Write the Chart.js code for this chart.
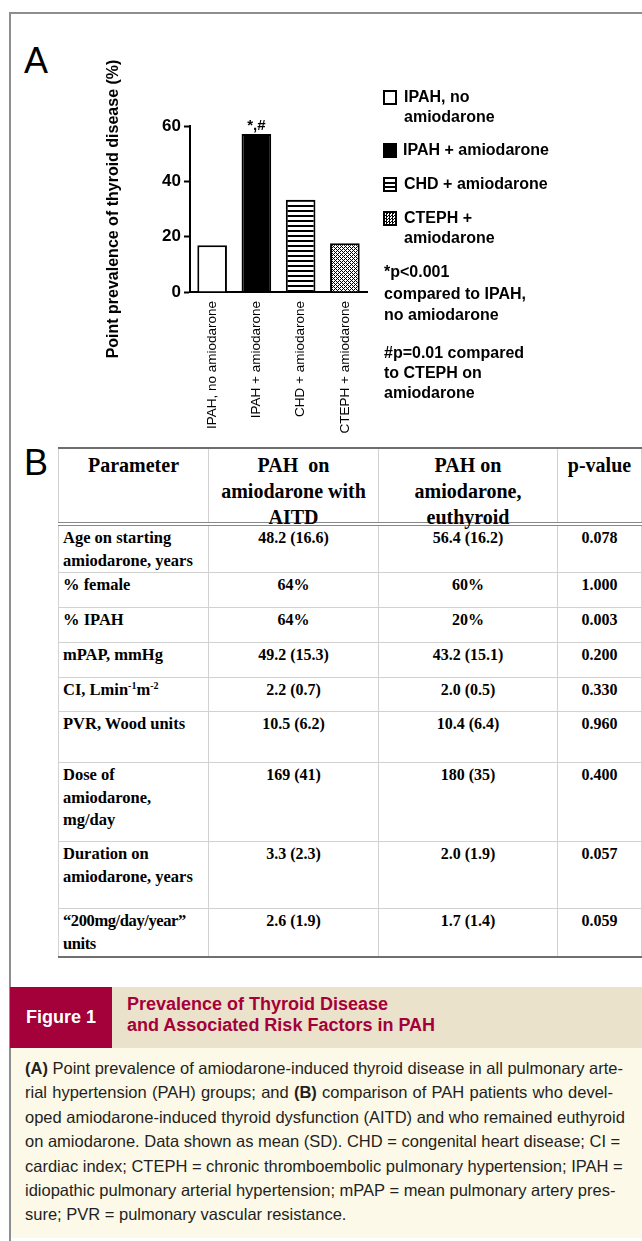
<!DOCTYPE html>
<html><head><meta charset="utf-8">
<script src="https://cdn.jsdelivr.net/npm/chart.js@4.4.1/dist/chart.umd.min.js"></script>
<style>
*{box-sizing:border-box;}
html,body{margin:0;padding:0;background:#fff;}
body{width:642px;height:1241px;position:relative;overflow:hidden;font-family:"Liberation Sans",Arial,sans-serif;color:#000;}
#frameTop{position:absolute;left:9px;top:12px;width:633px;height:2px;background:#8e8e8e;}
#frameLeft{position:absolute;left:9px;top:12px;width:2px;height:1229px;background:#8e8e8e;}
.panelLetter{position:absolute;font-size:36px;line-height:36px;}
#chartBox{position:absolute;left:95px;top:40px;width:290px;height:400px;}
.lg{position:absolute;white-space:nowrap;line-height:20px;font-weight:bold;font-size:16px;}
.sw{position:absolute;width:14px;height:15px;border:2px solid #000;background:#fff;}
#tbl{position:absolute;left:58px;top:447px;border-collapse:collapse;table-layout:fixed;font-family:"Liberation Serif","Times New Roman",serif;font-weight:bold;}
#tbl td,#tbl th{border:1px solid #d2d2d2;vertical-align:top;padding:0;white-space:nowrap;overflow:visible;}
#tbl th{font-size:20px;line-height:26px;padding-top:3px;text-align:center;border-top:2px solid #6e6e6e;border-bottom:4px double #888;}
#tbl th .hc{height:68px;overflow:visible;}
#tbl td{font-size:16.5px;line-height:22.5px;padding-top:1px;text-align:center;}
#tbl td.v{font-size:16px;}
#tbl td.p{text-align:left;padding-left:4px;}
#tbl tr:last-child td{border-bottom:2px solid #707070;}
#tbl sup{font-size:10px;line-height:0;vertical-align:6px;}
#hdrRed{position:absolute;left:10px;top:987px;width:102px;height:61px;background:#a4003a;color:#fff;font-family:"Liberation Sans Narrow","Arial Narrow","Liberation Sans",sans-serif;font-weight:bold;font-size:18px;line-height:61px;text-align:center;}
#hdrBeige{position:absolute;left:112px;top:987px;width:530px;height:61px;background:#ebe2cb;}
#hdrTitle{position:absolute;left:127px;top:994px;color:#a4003a;font-family:"Liberation Sans Narrow","Arial Narrow","Liberation Sans",sans-serif;font-weight:bold;font-size:18px;line-height:21px;}
#capBox{position:absolute;left:11px;top:1048px;width:631px;height:190px;background:#fdf9e9;}
#caption{position:absolute;left:25px;top:1056px;width:588px;font-family:"Liberation Sans Narrow","Arial Narrow","Liberation Sans",sans-serif;font-size:16.5px;color:#231f20;}
.cl{height:24.4px;line-height:24.4px;text-align:justify;text-align-last:justify;white-space:nowrap;}
.cl.last{text-align-last:left;}
</style>
</head>
<body>
<div id="frameTop"></div>
<div id="frameLeft"></div>
<div class="panelLetter" style="left:24px;top:43px;">A</div>
<div class="panelLetter" style="left:24px;top:445px;">B</div>
<div id="chartBox"><canvas id="c" width="290" height="400"></canvas></div>

<div class="sw" style="left:383px;top:90px;"></div>
<div class="lg" style="left:404px;top:87px;">IPAH, no</div>
<div class="lg" style="left:404px;top:107px;">amiodarone</div>
<div class="sw" style="left:383px;top:143px;background:#000;"></div>
<div class="lg" style="left:403px;top:140px;">IPAH + amiodarone</div>
<div class="sw" style="left:383px;top:177px;background:repeating-linear-gradient(to bottom,#fff 0 2.5px,#000 2.5px 4.5px);"></div>
<div class="lg" style="left:404px;top:174px;">CHD + amiodarone</div>
<div class="sw" style="left:383px;top:211px;background:repeating-conic-gradient(#000 0 25%,#fff 0 50%) 0 0/3px 3px;"></div>
<div class="lg" style="left:404px;top:208px;">CTEPH +</div>
<div class="lg" style="left:404px;top:228px;">amiodarone</div>
<div class="lg" style="left:384px;top:262px;">*p&lt;0.001</div>
<div class="lg" style="left:384px;top:284px;">compared to IPAH,</div>
<div class="lg" style="left:384px;top:305px;">no amiodarone</div>
<div class="lg" style="left:384px;top:343px;">#p=0.01 compared</div>
<div class="lg" style="left:384px;top:363px;">to CTEPH on</div>
<div class="lg" style="left:384px;top:383px;">amiodarone</div>

<table id="tbl"></table>

<div id="hdrRed">Figure 1</div>
<div id="hdrBeige"></div>
<div id="hdrTitle">Prevalence of Thyroid Disease<br>and Associated Risk Factors in PAH</div>
<div id="capBox"></div>
<div id="caption">
<div class="cl"><b>(A)</b> Point prevalence of amiodarone-induced thyroid disease in all pulmonary arte-</div>
<div class="cl">rial hypertension (PAH) groups; and <b>(B)</b> comparison of PAH patients who devel-</div>
<div class="cl">oped amiodarone-induced thyroid dysfunction (AITD) and who remained euthyroid</div>
<div class="cl">on amiodarone. Data shown as mean (SD). CHD = congenital heart disease; CI =</div>
<div class="cl">cardiac index; CTEPH = chronic thromboembolic pulmonary hypertension; IPAH =</div>
<div class="cl">idiopathic pulmonary arterial hypertension; mPAP = mean pulmonary artery pres-</div>
<div class="cl last">sure; PVR = pulmonary vascular resistance.</div>
</div>

<script>
// ---- Panel A data ----
const categories = ["IPAH, no amiodarone", "IPAH + amiodarone", "CHD + amiodarone", "CTEPH + amiodarone"];
const prevalence = [16.9, 57.1, 33.3, 17.6];
const yTicks = [0, 20, 40, 60];
const yTitle = "Point prevalence of thyroid disease (%)";
const significanceLabels = ["", "*,#", "", ""];

// ---- Panel B data ----
const tableHeaders = ["Parameter", "PAH&nbsp; on<br>amiodarone with<br>AITD", "PAH on<br>amiodarone,<br>euthyroid", "p-value"];
const tableParams = ["Age on starting<br>amiodarone, years", "% female", "% IPAH", "mPAP, mmHg", "CI, Lmin<sup>-1</sup>m<sup>-2</sup>", "PVR, Wood units", "Dose of<br>amiodarone,<br>mg/day", "Duration on<br>amiodarone, years", "“200mg/day/year”<br>units"];
const aitdValues = ["48.2 (16.6)", "64%", "64%", "49.2 (15.3)", "2.2 (0.7)", "10.5 (6.2)", "169 (41)", "3.3 (2.3)", "2.6 (1.9)"];
const euthyroidValues = ["56.4 (16.2)", "60%", "20%", "43.2 (15.1)", "2.0 (0.5)", "10.4 (6.4)", "180 (35)", "2.0 (1.9)", "1.7 (1.4)"];
const pValues = ["0.078", "1.000", "0.003", "0.200", "0.330", "0.960", "0.400", "0.057", "0.059"];

// layout-only settings for the table
const colWidths = [150, 170, 179, 84];
const headerHeight = 76;
const rowHeights = [47, 35, 35, 35, 34, 51, 79, 67, 48];

(function buildTable(){
  const t = document.getElementById('tbl');
  let html = '<colgroup>' + colWidths.map(w => '<col style="width:' + w + 'px">').join('') + '</colgroup>';
  html += '<tr style="height:' + headerHeight + 'px">' + tableHeaders.map(h => '<th><div class="hc">' + h + '</div></th>').join('') + '</tr>';
  tableParams.forEach((p, i) => {
    html += '<tr style="height:' + rowHeights[i] + 'px"><td class="p"' + (i === 8 ? ' style="letter-spacing:-0.4px"' : '') + '>' + p + '</td><td class="v">' + aitdValues[i] + '</td><td class="v">' + euthyroidValues[i] + '</td><td class="v">' + pValues[i] + '</td></tr>';
  });
  t.innerHTML = html;
  t.style.width = colWidths.reduce((a, b) => a + b, 0) + 'px';
})();

// ---- fill patterns ----
function stripePattern(ctx){
  const c = document.createElement('canvas'); c.width = 6; c.height = 5;
  const g = c.getContext('2d');
  g.fillStyle = '#fff'; g.fillRect(0, 0, 6, 5);
  g.fillStyle = '#000'; g.fillRect(0, 0, 6, 2);
  return ctx.createPattern(c, 'repeat');
}
function checkPattern(ctx){
  const c = document.createElement('canvas'); c.width = 4; c.height = 4;
  const g = c.getContext('2d');
  g.fillStyle = '#fff'; g.fillRect(0, 0, 4, 4);
  g.fillStyle = '#000';
  for (let x = 0; x < 4; x++) for (let y = 0; y < 4; y++) {
    if ((x + y) % 4 === 0 || ((x - y) % 4 + 4) % 4 === 0) g.fillRect(x, y, 1, 1);
  }
  return ctx.createPattern(c, 'repeat');
}

const canvas = document.getElementById('c');
const ctx = canvas.getContext('2d');
const fills = ['#ffffff', '#000000', stripePattern(ctx), checkPattern(ctx)];

const annotPlugin = {
  id: 'annot',
  afterDatasetsDraw(chart){
    const meta = chart.getDatasetMeta(0);
    const c = chart.ctx;
    c.save();
    c.fillStyle = '#000';
    c.font = 'bold 15px "Liberation Sans", Arial, sans-serif';
    c.textAlign = 'center';
    c.textBaseline = 'alphabetic';
    meta.data.forEach((el, i) => {
      if (significanceLabels[i]) c.fillText(significanceLabels[i], el.x, el.y - 4);
    });
    c.restore();
  }
};

new Chart(canvas, {
  type: 'bar',
  data: {
    labels: categories,
    datasets: [{
      data: prevalence,
      backgroundColor: fills,
      borderColor: '#000',
      borderWidth: 2,
      barPercentage: 0.67,
      categoryPercentage: 1.0
    }]
  },
  options: {
    responsive: false,
    animation: false,
    events: [],
    layout: { padding: { top: 86, right: 18, left: 0, bottom: 0 } },
    plugins: { legend: { display: false }, tooltip: { enabled: false } },
    scales: {
      x: {
        grid: { display: false },
        border: { display: true, color: '#000', width: 2 },
        ticks: {
          minRotation: 90, maxRotation: 90, autoSkip: false, padding: 1, color: '#000',
          font: { family: '"Liberation Sans", Arial, sans-serif', size: 13.5 }
        },
        afterFit(s){ s.height = 148; }
      },
      y: {
        min: 0, max: 60,
        afterBuildTicks(s){ s.ticks = yTicks.map(v => ({ value: v })); },
        ticks: {
          color: '#000', padding: 3,
          font: { family: '"Liberation Sans", Arial, sans-serif', size: 17, weight: 'bold' }
        },
        grid: { drawOnChartArea: false, drawTicks: true, tickLength: 6, tickColor: '#000', tickWidth: 2 },
        border: { display: true, color: '#000', width: 2 },
        title: {
          display: true, text: yTitle, color: '#000', padding: { top: 9, bottom: 0 },
          font: { family: '"Liberation Sans", Arial, sans-serif', size: 16, weight: 'bold' }
        },
        afterFit(s){ s.width = 95; }
      }
    }
  },
  plugins: [annotPlugin]
});
</script>
</body></html>
